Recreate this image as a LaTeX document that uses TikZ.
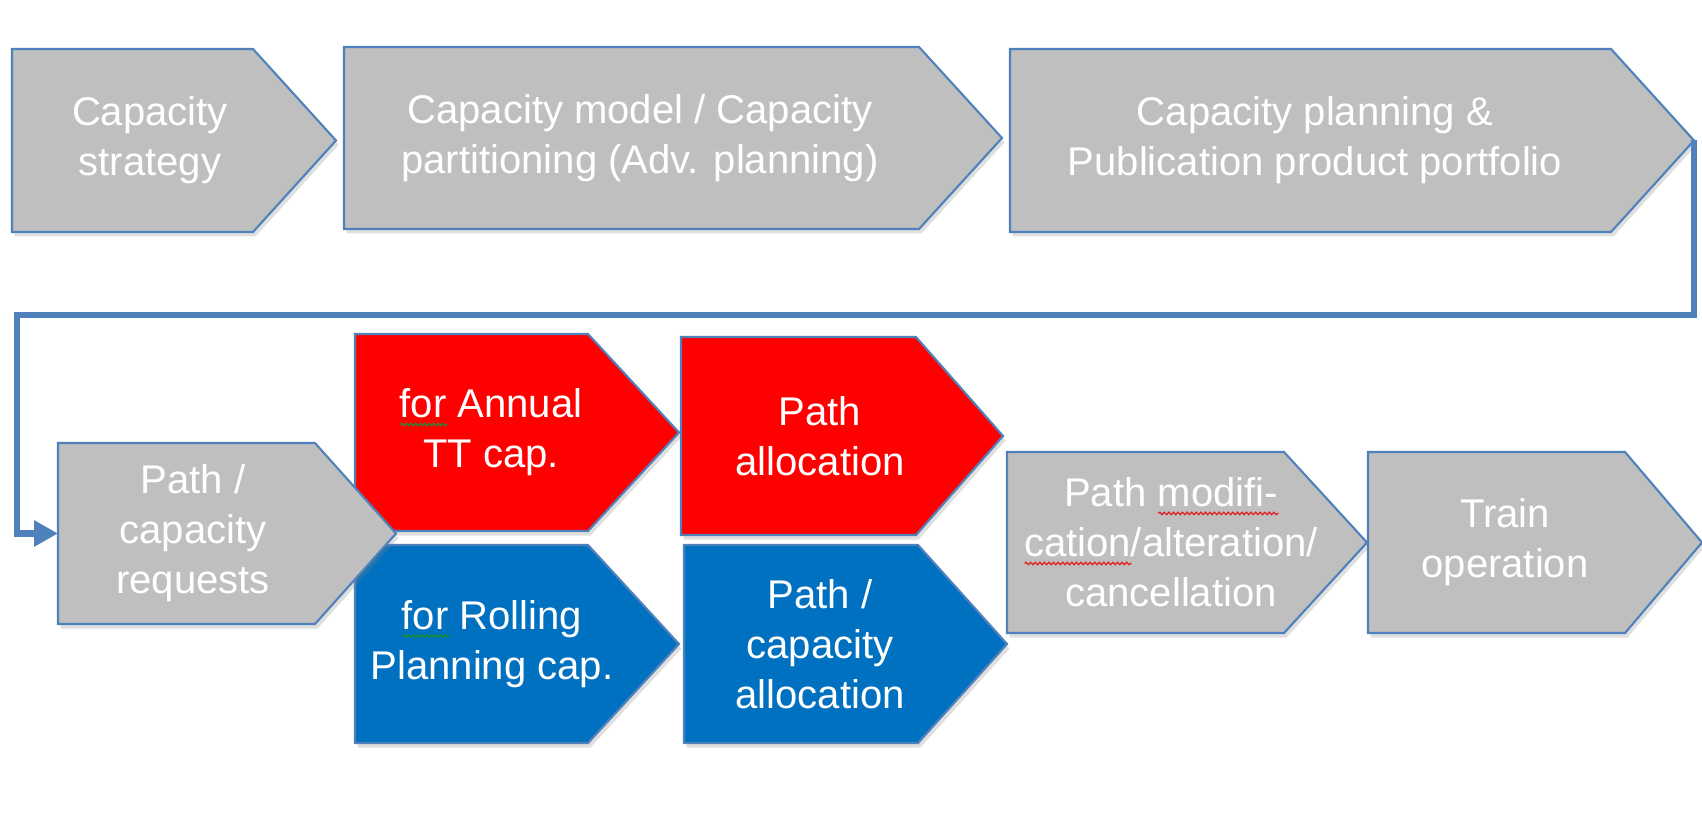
\documentclass[tikz,border=0pt]{standalone}
\usepackage{fontspec}
\setmainfont{Liberation Sans}
\usetikzlibrary{arrows.meta,shadows,decorations.pathmorphing}

\definecolor{frame}{HTML}{4F81BD}
\definecolor{boxgrey}{HTML}{BFBFBF}
\definecolor{boxred}{HTML}{FF0000}
\definecolor{boxblue}{HTML}{0070C0}
\definecolor{spellred}{HTML}{E02020}
\definecolor{spellgreen}{HTML}{1E8C32}

% wavy spelling mark under a word
\newcommand\spellwave[2]{%
  \setbox0\hbox{#2}%
  \rlap{\tikz[baseline=0pt] \draw [#1, line width=0.7pt, decorate,
    decoration={snake, amplitude=0.7pt, segment length=2.6pt}]
    (0pt,-3.8pt) -- (\wd0,-3.8pt);}%
  \box0\relax}

\tikzset{%
  every chevron/.style={
    draw=frame,
    line width=1.2pt,
    drop shadow={shadow xshift=0.05cm, shadow yshift=-0.09cm, opacity=0.25}
  },
  chevron grey/.style={fill=boxgrey},
  chevron red/.style={fill=boxred},
  chevron blue/.style={fill=boxblue},
  chevron text/.style={
    align=center,
    text=white,
    font=\fontsize{22.8}{28.5}\selectfont
  },
  flow/.style={
    draw=frame,
    line width=3.8pt,
    -{Triangle[length=0.48cm, width=0.5cm]}
  },
}

\begin{document}
\begin{tikzpicture}[x=0.02cm, y=-0.02cm]

\useasboundingbox (0,0) rectangle (1702,817);

\foreach \n/\xl/\xr/\xt/\yt/\yb/\k/\tx/\txt in {
  strategy/12/253/336/49/232/grey/150/{Capacity\\strategy},
  model/344/919/1002/47/229/grey/640/{Capacity model / Capacity\\partitioning (Adv. planning)},
  planning/1010/1611/1694/49/232/grey/1315/{Capacity planning \&\\Publication product portfolio},
  annual/355/588/679/334/531/red/491/{\spellwave{spellgreen}{for} Annual\\TT cap.},
  rolling/355/588/679/545/743/blue/492/{\spellwave{spellgreen}{for} Rolling\\Planning cap.},
  requests/58/315/396/443/624/grey/193/{Path /\\capacity\\requests},
  pathalloc/681/916/1003/337/535/red/820/{Path\\allocation},
  capalloc/684/918/1007/545/743/blue/820/{Path /\\capacity\\allocation},
  modification/1007/1284/1367/452/633/grey/1171/{Path \spellwave{spellred}{modifi-}\\\spellwave{spellred}{cation}/alteration/\\cancellation},
  operation/1368/1625/1702/452/633/grey/1505/{Train\\operation}}
{
  \draw [every chevron, chevron \k] (\xl,\yt) -- (\xr,\yt) -- (\xt,{(\yt+\yb)/2})
    -- (\xr,\yb) -- (\xl,\yb) -- cycle;
  \coordinate (\n-tip) at (\xt,{(\yt+\yb)/2});
  \coordinate (\n-west) at (\xl,{(\yt+\yb)/2});
  \node [chevron text] (\n) at (\tx,{(\yt+\yb)/2}) {\txt};
}

% loop back to the second row
\coordinate (turn) at (17,315);
\draw [flow] (planning-tip) |- (turn) |- (requests-west);

\end{tikzpicture}
\end{document}
